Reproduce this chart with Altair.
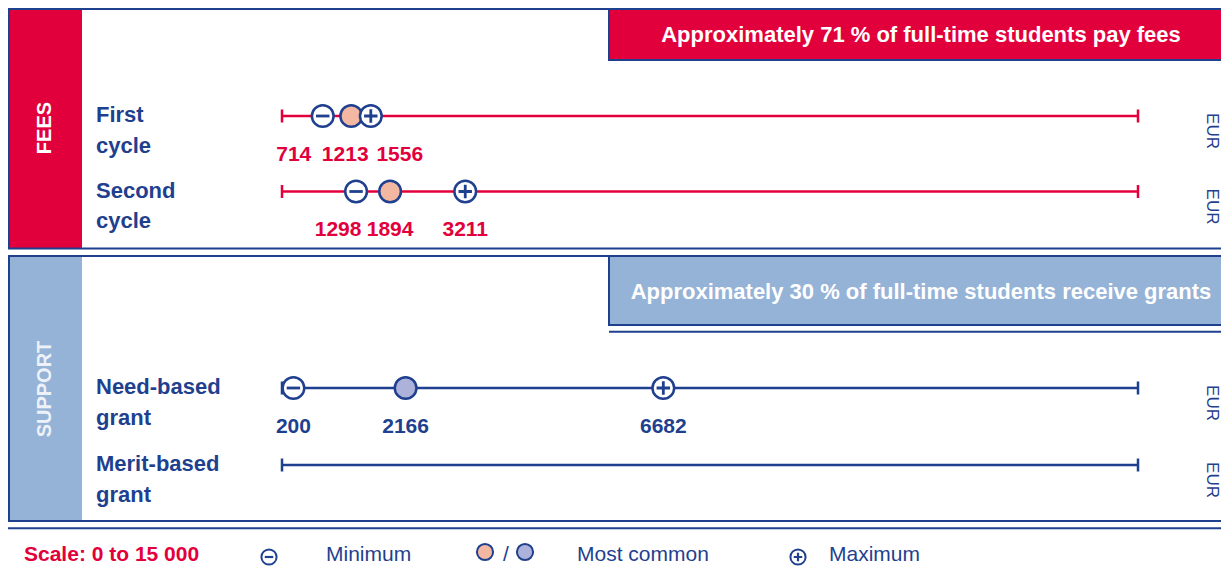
import altair as alt
import pandas as pd

# ---------------- data ----------------
ROWS = ["First\ncycle", "Second\ncycle", "Need-based\ngrant", "Merit-based\ngrant"]
SECTIONS = ["FEES", "FEES", "SUPPORT", "SUPPORT"]
MINIMUM = [714, 1298, 200, None]
MOST_COMMON = [1213, 1894, 2166, None]
MAXIMUM = [1556, 3211, 6682, None]
SCALE_RANGE = [0, 15000]
BANNER_TEXT = ["Approximately 71 % of full-time students pay fees",
               "Approximately 30 % of full-time students receive grants"]
UNIT = "EUR"
LEGEND_TEXT = ["Scale: 0 to 15 000", "Minimum", "/", "Most common", "Maximum"]

# ---------------- layout / style ----------------
W, H = 1213, 559
X0, X1 = 274, 1130                      # pixel span of the 0..15000 scale
ROW_Y = [108, 183.5, 380, 457]          # row line positions (px)
# horizontal nudges of value labels (px) to avoid overlaps
LABEL_NUDGE = {(0, "min"): -29, (0, "common"): -6, (0, "max"): 29, (1, "min"): -18}

RED = "#e2003c"
NAVY = "#1f3f8f"
LBLUE = "#95b3d7"
PEACH = "#f4b7a2"
LAVENDER = "#adb2db"
SANS = "'Liberation Sans', Arial, sans-serif"
LEG_Y = 553

px_to_val = (SCALE_RANGE[1] - SCALE_RANGE[0]) / (X1 - X0)

# ---------------- tables ----------------
rows = pd.DataFrame({
    "row": ROWS, "section": SECTIONS, "y": ROW_Y,
    "start": SCALE_RANGE[0], "end": SCALE_RANGE[1],
})
rows["label_y"] = rows["y"] + 6
rows["eur_y"] = rows["y"] + 15
rows["unit"] = UNIT

pts = []
for i in range(len(ROWS)):
    for kind, arr in (("min", MINIMUM), ("common", MOST_COMMON), ("max", MAXIMUM)):
        v = arr[i]
        if v is None:
            continue
        nudge = LABEL_NUDGE.get((i, kind), 0)
        pts.append({
            "row": ROWS[i], "section": SECTIONS[i], "kind": kind, "value": v,
            "txt": str(v), "label_x": v + nudge * px_to_val,
            "y": ROW_Y[i], "num_y": ROW_Y[i] + 44.5,
            "fillkey": SECTIONS[i] if kind == "common" else "none",
        })
pts = pd.DataFrame(pts)

ends = pd.concat([
    rows[["row", "section", "y"]].assign(value=SCALE_RANGE[0]),
    rows[["row", "section", "y"]].assign(value=SCALE_RANGE[1]),
])

xs = alt.Scale(domain=SCALE_RANGE, range=[X0, X1], nice=False, zero=False)
ys = alt.Scale(domain=[0, H], range=[0, H], nice=False, zero=False)
sec_col = alt.Scale(domain=["FEES", "SUPPORT"], range=[RED, NAVY])

one = pd.DataFrame({"_": [0]})


def rect(x, x2, y, y2, **kw):
    return alt.Chart(one).mark_rect(**kw).encode(
        x=alt.value(x), x2=alt.value(x2), y=alt.value(y), y2=alt.value(y2))


def hline(x, x2, y, color, w=2):
    return alt.Chart(one).mark_rule(stroke=color, strokeWidth=w).encode(
        x=alt.value(x), x2=alt.value(x2), y=alt.value(y))


def txt(x, y, s, **kw):
    return alt.Chart(one).mark_text(text=s, **kw).encode(x=alt.value(x), y=alt.value(y))


def glyph(x, y, shape, size, **kw):
    return alt.Chart(one).mark_point(shape=shape, size=size, **kw).encode(
        x=alt.value(x), y=alt.value(y))


# ---------------- decorations ----------------
deco = [
    # FEES panel
    rect(2, 74, 1, 240, fill=RED),
    rect(1, W + 5, 1, 240.5, fill=None, fillOpacity=0, stroke=NAVY, strokeWidth=2),
    rect(601, W + 5, 1, 52, fill=RED, stroke=NAVY, strokeWidth=2),
    txt(913, 27, BANNER_TEXT[0], font=SANS, fontWeight="bold", fontSize=22,
        color="white", align="center", baseline="middle"),
    txt(37, 120, "FEES", font=SANS, fontWeight="bold", fontSize=20, color="white",
        angle=270, align="center", baseline="middle"),
    # SUPPORT panel
    rect(2, 74, 248, 512, fill=LBLUE),
    rect(1, W + 5, 248, 513, fill=None, fillOpacity=0, stroke=NAVY, strokeWidth=2),
    rect(601, W + 5, 248, 317, fill=LBLUE, stroke=NAVY, strokeWidth=2),
    hline(601, W, 323.7, NAVY, 2),
    txt(913, 284, BANNER_TEXT[1], font=SANS, fontWeight="bold", fontSize=22,
        color="white", align="center", baseline="middle"),
    txt(37, 381, "SUPPORT", font=SANS, fontWeight="bold", fontSize=20, color="#eef2f8",
        angle=270, align="center", baseline="middle"),
    # bottom line
    hline(0, W, 520.3, NAVY, 2),
]

# ---------------- legend ----------------
legend = [
    txt(16, LEG_Y, LEGEND_TEXT[0], font=SANS, fontWeight="bold", fontSize=21, color=RED,
        align="left", baseline="alphabetic"),
    glyph(261, LEG_Y - 4, "circle", 230, filled=False, stroke=NAVY, strokeWidth=2, opacity=1),
    glyph(261, LEG_Y - 4, "M-1,0H1", 72, filled=False, stroke=NAVY, strokeWidth=2.2, opacity=1),
    txt(318, LEG_Y, LEGEND_TEXT[1], font=SANS, fontSize=21, color=NAVY,
        align="left", baseline="alphabetic"),
    glyph(477, LEG_Y - 9, "circle", 260, filled=True, fill=PEACH, stroke=NAVY, strokeWidth=2, opacity=1),
    txt(498, LEG_Y, LEGEND_TEXT[2], font=SANS, fontSize=21, color=NAVY,
        align="center", baseline="alphabetic"),
    glyph(517, LEG_Y - 9, "circle", 260, filled=True, fill=LAVENDER, stroke=NAVY, strokeWidth=2, opacity=1),
    txt(569, LEG_Y, LEGEND_TEXT[3], font=SANS, fontSize=21, color=NAVY,
        align="left", baseline="alphabetic"),
    glyph(790, LEG_Y - 4, "circle", 230, filled=False, stroke=NAVY, strokeWidth=2, opacity=1),
    glyph(790, LEG_Y - 4, "M-1,0H1M0,-1V1", 72, filled=False, stroke=NAVY, strokeWidth=2.2, opacity=1),
    txt(821, LEG_Y, LEGEND_TEXT[4], font=SANS, fontSize=21, color=NAVY,
        align="left", baseline="alphabetic"),
]

# ---------------- data layers ----------------
base_rows = alt.Chart(rows)
lines = base_rows.mark_rule(strokeWidth=2.3).encode(
    x=alt.X("start:Q", scale=xs, axis=None),
    x2="end:Q",
    y=alt.Y("y:Q", scale=ys, axis=None),
    stroke=alt.Stroke("section:N", scale=sec_col, legend=None),
)
row_labels = base_rows.mark_text(
    align="left", baseline="alphabetic", lineBreak="\n", lineHeight=30.5,
    font=SANS, fontWeight="bold", fontSize=22, color=NAVY,
).encode(x=alt.value(88), y=alt.Y("label_y:Q", scale=ys), text="row:N")
eur = base_rows.mark_text(
    angle=90, align="center", baseline="middle", font=SANS, fontSize=17, color=NAVY,
).encode(x=alt.value(1204), y=alt.Y("eur_y:Q", scale=ys), text="unit:N")

end_ticks = alt.Chart(ends).mark_point(
    shape="M0,-1V1", size=169, filled=False, strokeWidth=2.5, opacity=1,
).encode(
    x=alt.X("value:Q", scale=xs),
    y=alt.Y("y:Q", scale=ys),
    stroke=alt.Stroke("section:N", scale=sec_col, legend=None),
)

circles = alt.Chart(pts).mark_point(
    shape="circle", size=470, filled=True, stroke=NAVY, strokeWidth=2.5, opacity=1,
).encode(
    x=alt.X("value:Q", scale=xs),
    y=alt.Y("y:Q", scale=ys),
    fill=alt.Fill("fillkey:N", scale=alt.Scale(domain=["none", "FEES", "SUPPORT"],
                                               range=["white", PEACH, LAVENDER]), legend=None),
)

signs = alt.Chart(pts).transform_filter(alt.datum.kind != "common").mark_point(
    size=180, filled=False, stroke=NAVY, strokeWidth=2.8, opacity=1,
).encode(
    x=alt.X("value:Q", scale=xs),
    y=alt.Y("y:Q", scale=ys),
    shape=alt.Shape("kind:N", scale=alt.Scale(domain=["min", "max"],
                                              range=["M-1,0H1", "M-1,0H1M0,-1V1"]), legend=None),
)

numbers = alt.Chart(pts).mark_text(
    align="center", baseline="alphabetic", font=SANS, fontWeight="bold", fontSize=21,
).encode(
    x=alt.X("label_x:Q", scale=xs),
    y=alt.Y("num_y:Q", scale=ys),
    text="txt:N",
    color=alt.Color("section:N", scale=sec_col, legend=None),
)

chart = alt.layer(
    *deco, lines, end_ticks, circles, signs, numbers, row_labels, eur, *legend
).properties(
    width=W, height=H, padding=0, autosize=alt.AutoSizeParams(type="none"),
).configure_view(stroke=None)

chart.save("out.html", embed_options={"renderer": "svg", "actions": False})
